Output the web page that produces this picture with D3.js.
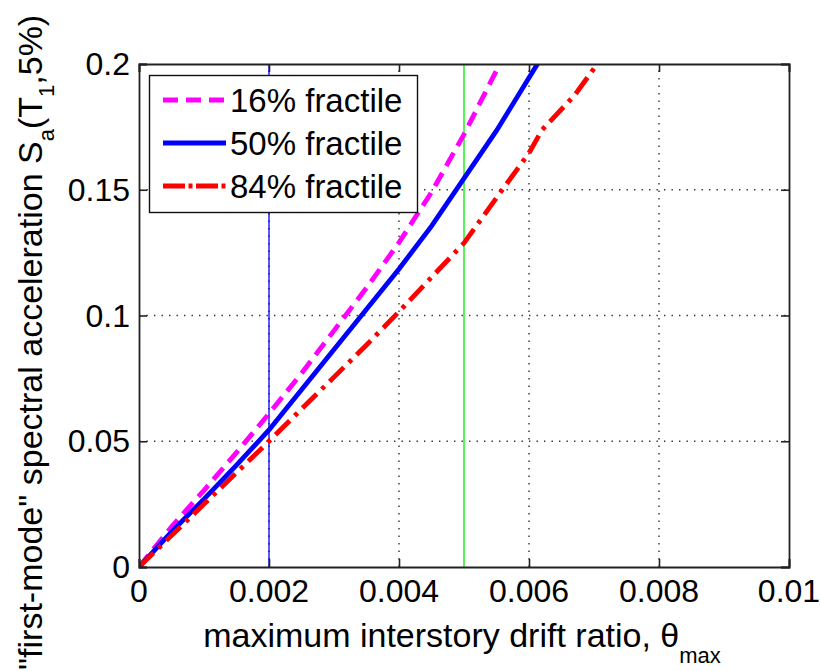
<!DOCTYPE html>
<html>
<head>
<meta charset="utf-8">
<script src="https://cdn.jsdelivr.net/npm/d3@7"></script>
<style>
  html, body { margin: 0; padding: 0; background: #fff; }
  svg { display: block; font-family: "Liberation Sans", Arial, Helvetica, sans-serif; }
</style>
</head>
<body>
<svg id="chart" width="820" height="671"></svg>
<script>
// Axis ticks
const thetaTicks = [0, 0.002, 0.004, 0.006, 0.008, 0.01];
const thetaTickLabels = ["0", "0.002", "0.004", "0.006", "0.008", "0.01"];
const saTicks = [0, 0.05, 0.1, 0.15, 0.2];
const saTickLabels = ["0", "0.05", "0.1", "0.15", "0.2"];

// Reference drift limits (vertical lines)
const refLines = [0.002, 0.005];

// Fractile IDA curves: drift ratio vs. spectral acceleration
const frac16Theta = [0, 0.0005, 0.001, 0.0015, 0.002, 0.0025, 0.003, 0.0035, 0.004, 0.0045, 0.005, 0.00555];
const frac16Sa    = [0, 0.016, 0.0305, 0.0455, 0.061, 0.077, 0.094, 0.111, 0.129, 0.149, 0.172, 0.2];

const frac50Theta = [0, 0.0005, 0.001, 0.0015, 0.002, 0.0025, 0.003, 0.0035, 0.004, 0.0045, 0.005, 0.0055, 0.006, 0.00613];
const frac50Sa    = [0, 0.014, 0.027, 0.0405, 0.0545, 0.0705, 0.0865, 0.1025, 0.1185, 0.1355, 0.1545, 0.1735, 0.1945, 0.2];

const frac84Theta = [0, 0.0005, 0.001, 0.0015, 0.002, 0.0025, 0.003, 0.0035, 0.004, 0.0045, 0.005, 0.0055, 0.006, 0.0062, 0.0067, 0.00705];
const frac84Sa    = [0, 0.0125, 0.025, 0.0375, 0.050, 0.0628, 0.0755, 0.0883, 0.1015, 0.1152, 0.1288, 0.1468, 0.1646, 0.1738, 0.1875, 0.2];

const seriesNames = ["16% fractile", "50% fractile", "84% fractile"];

const svg = d3.select("#chart");
const L = 139, R = 789, T = 64, B = 567;

const x = d3.scaleLinear().domain([0, 0.01]).range([L, R]);
const y = d3.scaleLinear().domain([0, 0.2]).range([B, T]);

// Dotted grid
const gridStyle = g => g.attr("stroke", "#333").attr("stroke-width", 1.4).attr("stroke-dasharray", "1.4,6.1");
svg.append("g").selectAll("line").data(thetaTicks.slice(1, -1)).join("line")
  .attr("x1", d => x(d)).attr("x2", d => x(d)).attr("y1", B).attr("y2", T)
  .call(gridStyle);
svg.append("g").selectAll("line").data(saTicks.slice(1, -1)).join("line")
  .attr("x1", L).attr("x2", R).attr("y1", d => y(d)).attr("y2", d => y(d))
  .call(gridStyle);

// Reference drift lines
const refColors = ["#0000ff", "#00ee00"];
svg.append("g").selectAll("line").data(refLines).join("line")
  .attr("x1", d => x(d)).attr("x2", d => x(d)).attr("y1", B).attr("y2", T)
  .attr("stroke", (d, i) => refColors[i]).attr("stroke-width", 1.3);

// Curves
const series = [
  { name: seriesNames[0], theta: frac16Theta, sa: frac16Sa, color: "#ff00ff", dash: "15,8", legendDash: "15,8" },
  { name: seriesNames[1], theta: frac50Theta, sa: frac50Sa, color: "#0000ff", dash: null, legendDash: null },
  { name: seriesNames[2], theta: frac84Theta, sa: frac84Sa, color: "#ff0000", dash: "20,7,4,7", legendDash: "22,3.5,4,3.5" }
];
const line = d3.line().x(d => x(d[0])).y(d => y(d[1]));
svg.append("clipPath").attr("id", "plotclip")
  .append("rect").attr("x", L).attr("y", T).attr("width", R - L).attr("height", B - T);
svg.append("g").attr("clip-path", "url(#plotclip)").selectAll("path").data(series).join("path")
  .attr("d", s => line(s.theta.map((t, i) => [t, s.sa[i]])))
  .attr("fill", "none").attr("stroke", s => s.color).attr("stroke-width", 4.8)
  .attr("stroke-dasharray", s => s.dash);

// Axes box and inward ticks
const axisColor = "#222";
const axB = d3.axisBottom(x).tickValues(thetaTicks).tickSize(-8).tickFormat("");
const axT = d3.axisTop(x).tickValues(thetaTicks).tickSize(-8).tickFormat("");
const axL = d3.axisLeft(y).tickValues(saTicks).tickSize(-8).tickFormat("");
const axR = d3.axisRight(y).tickValues(saTicks).tickSize(-8).tickFormat("");
const styleAxis = g => {
  g.selectAll("path").attr("stroke", axisColor).attr("stroke-width", 1.8);
  g.selectAll("line").attr("stroke", axisColor).attr("stroke-width", 1.6);
};
svg.append("g").attr("transform", `translate(0,${B})`).call(axB).call(styleAxis);
svg.append("g").attr("transform", `translate(0,${T})`).call(axT).call(styleAxis);
svg.append("g").attr("transform", `translate(${L},0)`).call(axL).call(styleAxis);
svg.append("g").attr("transform", `translate(${R},0)`).call(axR).call(styleAxis);

// Tick labels
svg.append("g").selectAll("text").data(thetaTicks).join("text")
  .attr("x", d => x(d)).attr("y", B + 35)
  .attr("text-anchor", "middle").attr("font-size", 32).attr("fill", "#000")
  .text((d, i) => thetaTickLabels[i]);
svg.append("g").selectAll("text").data(saTicks).join("text")
  .attr("x", L - 9).attr("y", d => y(d) + 11)
  .attr("text-anchor", "end").attr("font-size", 32).attr("fill", "#000")
  .text((d, i) => saTickLabels[i]);

// X axis label with subscript
const xl = svg.append("text").attr("x", 462).attr("y", 647)
  .attr("text-anchor", "middle").attr("font-size", 34).attr("fill", "#000");
xl.append("tspan").text("maximum interstory drift ratio, θ");
xl.append("tspan").attr("dy", 16).attr("font-size", 22).text("max");

// Y axis label with subscripts
const yl = svg.append("text").attr("transform", "translate(42,670) rotate(-90)")
  .attr("text-anchor", "start").attr("font-size", 34).attr("fill", "#000");
yl.append("tspan").text("\"first-mode\" spectral acceleration S");
yl.append("tspan").attr("dy", 12).attr("font-size", 22).text("a");
yl.append("tspan").attr("dy", -12).text("(T");
yl.append("tspan").attr("dy", 12).attr("font-size", 22).text("1");
yl.append("tspan").attr("dy", -12).text(",5%)");

// Legend
const lg = svg.append("g");
lg.append("rect").attr("x", 149.5).attr("y", 75.5).attr("width", 268).attr("height", 137)
  .attr("fill", "#fff").attr("stroke", "#111").attr("stroke-width", 1.4);
const rowY = [100, 143, 186];
const items = lg.selectAll("g.item").data(series).join("g").attr("class", "item");
items.append("line")
  .attr("x1", 163).attr("x2", 226).attr("y1", (d, i) => rowY[i]).attr("y2", (d, i) => rowY[i])
  .attr("stroke", d => d.color).attr("stroke-width", 5).attr("stroke-dasharray", d => d.legendDash);
items.append("text")
  .attr("x", 230).attr("y", (d, i) => rowY[i] + 12)
  .attr("font-size", 33).attr("fill", "#000")
  .text(d => d.name);
</script>
</body>
</html>
